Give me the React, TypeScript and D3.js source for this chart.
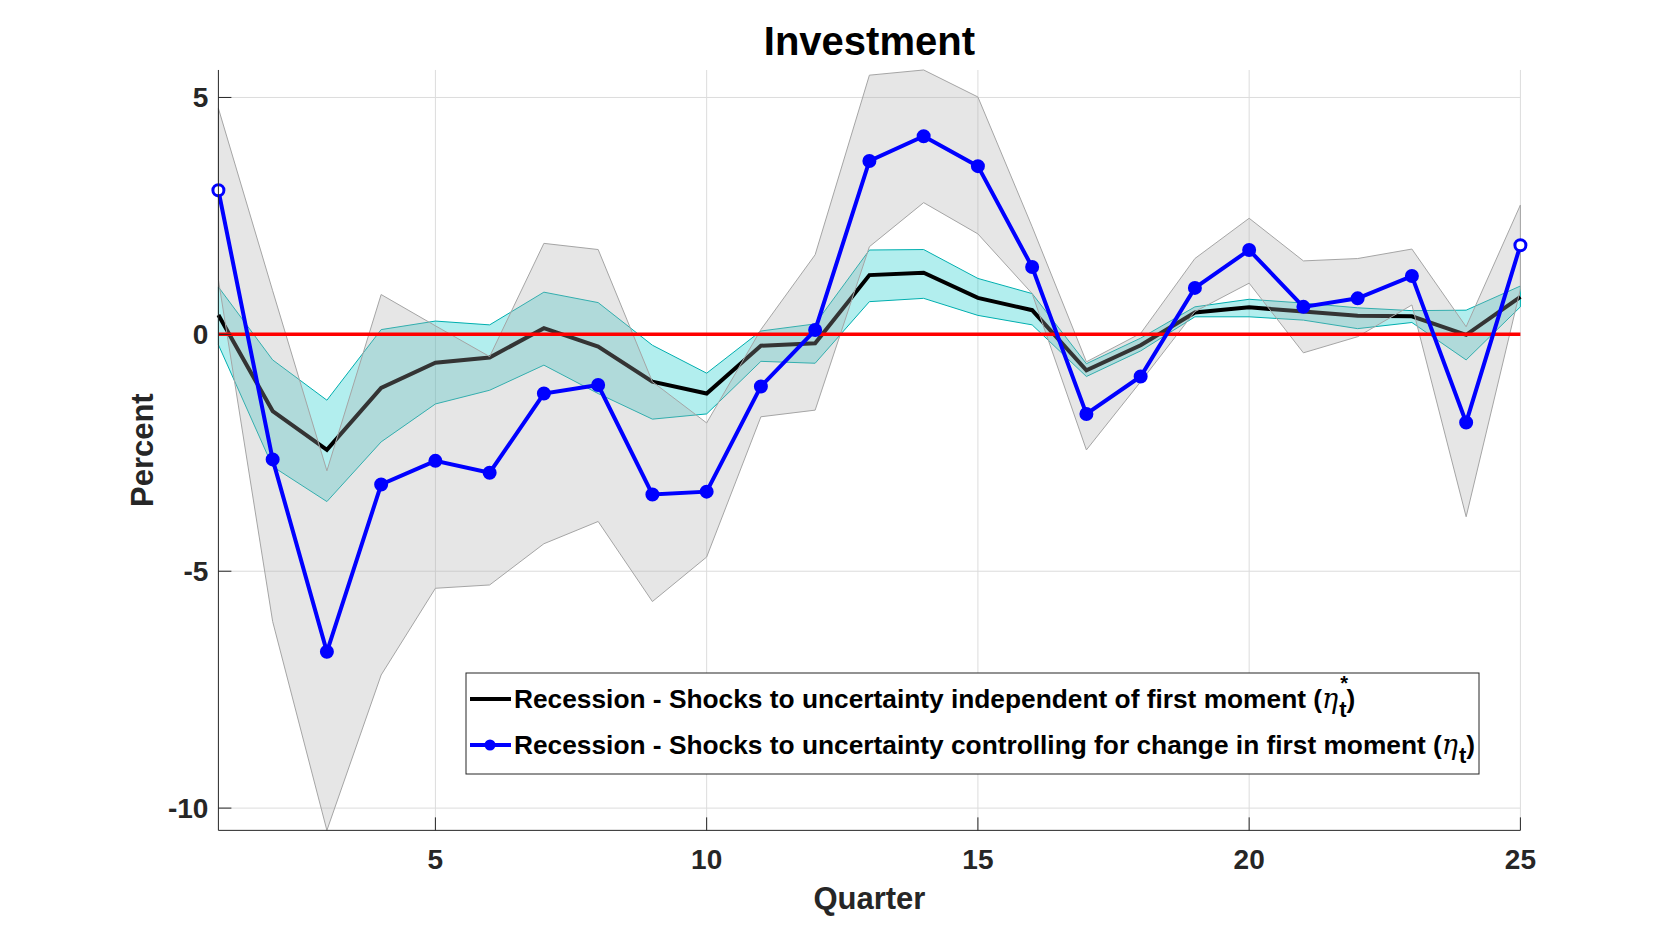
import React, { useRef, useEffect } from "react";
import * as d3 from "d3";

// quarters after the shock
const quarters = [1, 2, 3, 4, 5, 6, 7, 8, 9, 10, 11, 12, 13, 14, 15, 16, 17, 18, 19, 20, 21, 22, 23, 24, 25];

// recession, shocks independent of first moment (eta*)
const indepMean = [0.41, -1.62, -2.44, -1.13, -0.6, -0.49, 0.13, -0.26, -1.0, -1.25, -0.24, -0.19, 1.25, 1.3, 0.77, 0.51, -0.76, -0.23, 0.46, 0.57, 0.48, 0.39, 0.38, -0.01, 0.79];
const indepUpper = [1.0, -0.54, -1.39, 0.1, 0.28, 0.2, 0.89, 0.67, -0.23, -0.82, 0.07, 0.22, 1.78, 1.79, 1.18, 0.86, -0.62, -0.08, 0.58, 0.74, 0.66, 0.56, 0.5, 0.51, 1.02];
const indepLower = [-0.22, -2.79, -3.53, -2.27, -1.47, -1.18, -0.65, -1.25, -1.79, -1.68, -0.57, -0.61, 0.69, 0.76, 0.4, 0.2, -0.89, -0.35, 0.37, 0.37, 0.3, 0.12, 0.25, -0.54, 0.58];

// recession, shocks controlling for change in first moment (eta)
const ctrlMean = [3.04, -2.64, -6.7, -3.17, -2.67, -2.92, -1.25, -1.07, -3.38, -3.32, -1.1, 0.09, 3.66, 4.18, 3.55, 1.42, -1.68, -0.89, 0.98, 1.78, 0.58, 0.76, 1.23, -1.86, 1.88];
const ctrlUpper = [4.77, 0.92, -2.88, 0.84, 0.18, -0.47, 1.92, 1.79, -1.0, -1.87, 0.1, 1.68, 5.47, 5.58, 5.01, 2.27, -0.58, 0.02, 1.6, 2.45, 1.55, 1.6, 1.8, 0.16, 2.73];
const ctrlLower = [1.15, -6.06, -10.47, -7.19, -5.36, -5.29, -4.42, -3.95, -5.64, -4.7, -1.74, -1.6, 1.85, 2.78, 2.12, 0.86, -2.44, -1.0, 0.48, 1.08, -0.39, -0.05, 0.62, -3.85, 0.95];

const xTicks = [5, 10, 15, 20, 25];
const yTicks = [-10, -5, 0, 5];

const legendLabels = [
  "Recession - Shocks to uncertainty independent of first moment (",
  "Recession - Shocks to uncertainty controlling for change in first moment (",
];

const FONT = `"Liberation Sans", Arial, Helvetica, sans-serif`;

const App: React.FC = () => {
  const svgRef = useRef<SVGSVGElement>(null);

  useEffect(() => {
    const width = 1680;
    const height = 933;
    // matlab default axes position
    const left = 0.13 * width;
    const right = left + 0.775 * width;
    const bottom = height - 0.11 * height;
    const top = bottom - 0.815 * height;

    const svg = d3.select(svgRef.current);
    svg.selectAll("*").remove();

    const all = [...indepUpper, ...indepLower, ...ctrlUpper, ...ctrlLower, ...ctrlMean, ...indepMean];
    const x = d3.scaleLinear().domain(d3.extent(quarters) as [number, number]).range([left, right]);
    const y = d3.scaleLinear().domain(d3.extent(all) as [number, number]).range([bottom, top]);

    const pts = (arr: number[]) => quarters.map((q, i) => [q, arr[i]] as [number, number]);

    // grid
    const grid = svg.append("g");
    xTicks.forEach((t) => {
      grid.append("line")
        .attr("x1", x(t)).attr("x2", x(t)).attr("y1", top).attr("y2", bottom)
        .attr("stroke", "#dcdcdc").attr("stroke-width", 1);
    });
    yTicks.forEach((t) => {
      grid.append("line")
        .attr("x1", left).attr("x2", right).attr("y1", y(t)).attr("y2", y(t))
        .attr("stroke", "#dcdcdc").attr("stroke-width", 1);
    });

    const area = d3.area<[number, number, number]>()
      .x((d) => x(d[0]))
      .y0((d) => y(d[1]))
      .y1((d) => y(d[2]));
    const line = d3.line<[number, number]>().x((d) => x(d[0])).y((d) => y(d[1]));

    // cyan band
    svg.append("path")
      .datum(quarters.map((q, i) => [q, indepLower[i], indepUpper[i]] as [number, number, number]))
      .attr("d", area)
      .attr("fill", "rgb(0,200,200)")
      .attr("fill-opacity", 0.3)
      .attr("stroke", "rgb(0,175,175)")
      .attr("stroke-width", 1);

    // black line
    svg.append("path")
      .datum(pts(indepMean))
      .attr("d", line)
      .attr("fill", "none")
      .attr("stroke", "#000")
      .attr("stroke-width", 4)
      .attr("stroke-linejoin", "miter");

    // gray band (drawn over)
    svg.append("path")
      .datum(quarters.map((q, i) => [q, ctrlLower[i], ctrlUpper[i]] as [number, number, number]))
      .attr("d", area)
      .attr("fill", "rgb(172,172,172)")
      .attr("fill-opacity", 0.3)
      .attr("stroke", "rgb(165,165,165)")
      .attr("stroke-width", 1);

    // zero line
    svg.append("line")
      .attr("x1", x(1)).attr("x2", x(25)).attr("y1", y(0)).attr("y2", y(0))
      .attr("stroke", "#ff0000").attr("stroke-width", 3.5);

    // blue line
    svg.append("path")
      .datum(pts(ctrlMean))
      .attr("d", line)
      .attr("fill", "none")
      .attr("stroke", "#0000ff")
      .attr("stroke-width", 4)
      .attr("stroke-linejoin", "miter");
    svg.append("g")
      .selectAll("circle")
      .data(pts(ctrlMean))
      .enter()
      .append("circle")
      .attr("cx", (d) => x(d[0]))
      .attr("cy", (d) => y(d[1]))
      .attr("r", 5.5)
      .attr("fill", (d, i) => (i === 0 || i === quarters.length - 1 ? "#fff" : "#0000ff"))
      .attr("stroke", "#0000ff")
      .attr("stroke-width", 3);

    // axes
    const axisColor = "#262626";
    svg.append("line").attr("x1", left).attr("x2", left).attr("y1", top).attr("y2", bottom)
      .attr("stroke", axisColor).attr("stroke-width", 1);
    svg.append("line").attr("x1", left).attr("x2", right).attr("y1", bottom).attr("y2", bottom)
      .attr("stroke", axisColor).attr("stroke-width", 1);

    const tickLen = 13;
    xTicks.forEach((t) => {
      svg.append("line").attr("x1", x(t)).attr("x2", x(t)).attr("y1", bottom).attr("y2", bottom - tickLen)
        .attr("stroke", axisColor);
      svg.append("text").attr("x", x(t)).attr("y", bottom + 39)
        .attr("text-anchor", "middle").attr("font-family", FONT).attr("font-weight", "bold")
        .attr("font-size", 28).attr("fill", axisColor).text(t);
    });
    yTicks.forEach((t) => {
      svg.append("line").attr("x1", left).attr("x2", left + tickLen).attr("y1", y(t)).attr("y2", y(t))
        .attr("stroke", axisColor);
      svg.append("text").attr("x", left - 10).attr("y", y(t) + 10)
        .attr("text-anchor", "end").attr("font-family", FONT).attr("font-weight", "bold")
        .attr("font-size", 28).attr("fill", axisColor).text(t);
    });

    // title and labels
    svg.append("text").attr("x", (left + right) / 2).attr("y", 55)
      .attr("text-anchor", "middle").attr("font-family", FONT).attr("font-weight", "bold")
      .attr("font-size", 40).attr("fill", "#000").text("Investment");
    svg.append("text").attr("x", (left + right) / 2).attr("y", 909)
      .attr("text-anchor", "middle").attr("font-family", FONT).attr("font-weight", "bold")
      .attr("font-size", 31).attr("fill", axisColor).text("Quarter");
    svg.append("text")
      .attr("transform", `translate(${153},${(top + bottom) / 2}) rotate(-90)`)
      .attr("text-anchor", "middle").attr("font-family", FONT).attr("font-weight", "bold")
      .attr("font-size", 31).attr("fill", axisColor).text("Percent");

    // legend
    const lg = svg.append("g");
    lg.append("rect")
      .attr("x", 466).attr("y", 673).attr("width", 1013).attr("height", 101)
      .attr("fill", "#fff").attr("stroke", axisColor).attr("stroke-width", 1);
    const rowY = [699, 745];
    legendLabels.forEach((lab, i) => {
      const cy = rowY[i];
      lg.append("line").attr("x1", 470).attr("x2", 511).attr("y1", cy).attr("y2", cy)
        .attr("stroke", i === 0 ? "#000" : "#0000ff").attr("stroke-width", 4);
      if (i === 1) {
        lg.append("circle").attr("cx", 490).attr("cy", cy).attr("r", 5.5).attr("fill", "#0000ff");
      }
      const txt = lg.append("text").attr("x", 514).attr("y", cy + 9)
        .attr("font-family", FONT).attr("font-weight", "bold").attr("font-size", 26.3).attr("fill", "#000");
      const main = txt.append("tspan").text(lab);
      const eta = txt.append("tspan").attr("font-family", `"DejaVu Serif", serif`).attr("font-style", "italic")
        .attr("font-weight", "normal").attr("font-size", 27).text("\u03b7");
      txt.append("tspan").attr("dy", 9).attr("dx", 1).attr("font-size", 22).text("t");
      txt.append("tspan").attr("dy", -9).text(")");
      if (i === 0) {
        const w = (main.node() as SVGTSpanElement).getComputedTextLength() +
          (eta.node() as SVGTSpanElement).getComputedTextLength();
        lg.append("text").attr("x", 514 + w + 2).attr("y", cy - 9)
          .attr("font-family", FONT).attr("font-weight", "bold").attr("font-size", 20).text("*");
      }
    });
  }, []);

  return (
    <div style={{ position: "absolute", left: 0, top: 0 }}>
      <svg ref={svgRef} width={1680} height={933} style={{ display: "block", background: "#fff" }}></svg>
    </div>
  );
};

export default App;
